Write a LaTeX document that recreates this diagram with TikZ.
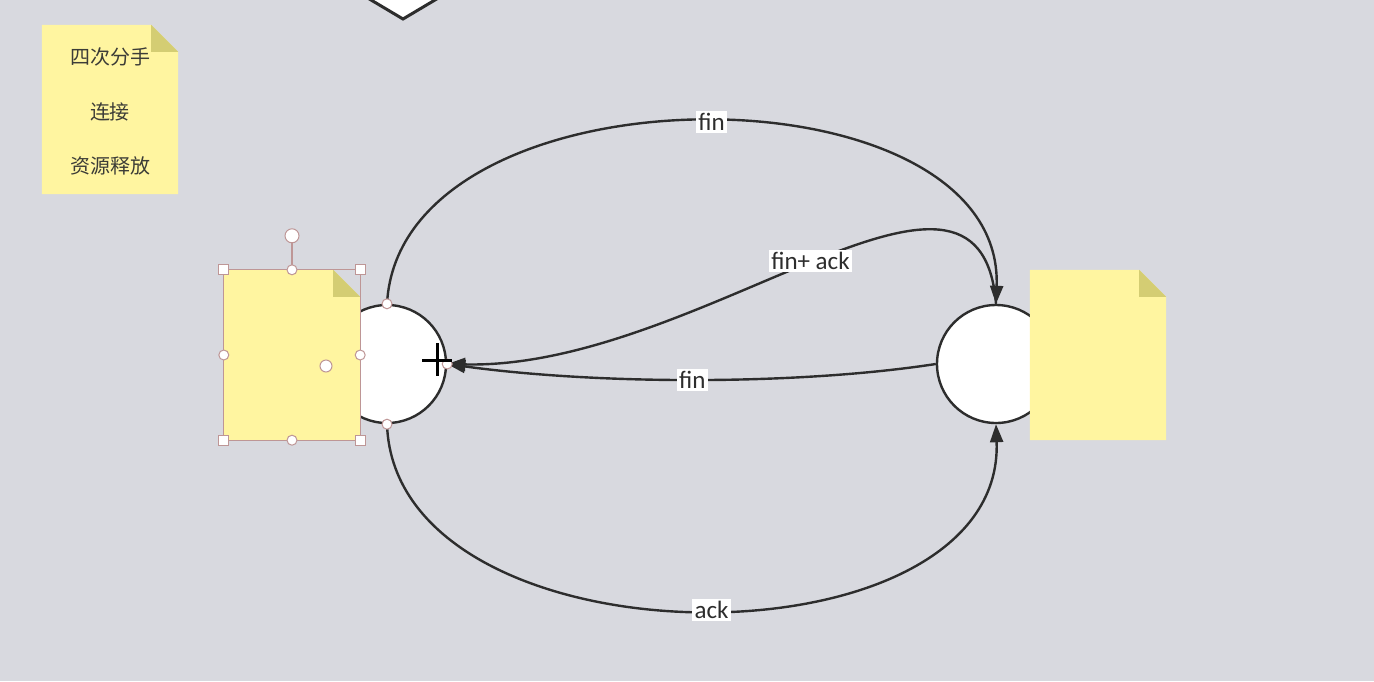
\documentclass[tikz,border=0pt]{standalone}
\usepackage{fontspec}
\setmainfont{Carlito}
\newfontfamily\cjk{Noto Sans CJK SC}
\usetikzlibrary{arrows.meta,calc}
\definecolor{bg}{RGB}{216,217,223}
\definecolor{notey}{RGB}{255,245,160}
\definecolor{foldy}{RGB}{212,205,115}
\definecolor{ln}{RGB}{45,45,45}
\definecolor{sel}{RGB}{190,150,150}
\newcommand\drawnote[1]{%
  \fill[notey] (#1.north west) -- ($(#1.north east)+(-27,0)$) -- ($(#1.north east)+(0,27)$) -- (#1.south east) -- (#1.south west) -- cycle;
  \fill[foldy] ($(#1.north east)+(-27,0)$) -- ($(#1.north east)+(-27,27)$) -- ($(#1.north east)+(0,27)$) -- cycle;}
\begin{document}
\begin{tikzpicture}[x=1pt,y=-1pt,
 conn/.style={draw=ln,line width=2.4pt},
 tip/.style={-{Triangle[length=18pt,width=13pt]}},
 lbl/.style={fill=white,inner xsep=2.5pt,inner ysep=2.5pt,font=\fontsize{25}{27}\selectfont,text=ln},
 circ/.style={circle,draw=ln,line width=2.4pt,fill=white,minimum size=118pt,inner sep=0pt},
 notebox/.style={minimum width=136pt,minimum height=170pt,inner sep=0pt},
 hsq/.style={draw=sel,fill=white,line width=1pt,minimum size=10pt,inner sep=0pt},
 hcirc/.style={circle,draw=sel,fill=white,line width=1pt,minimum size=10pt,inner sep=0pt},
 cpt/.style={circle,draw=sel,fill=white,line width=1pt,minimum size=10pt,inner sep=0pt}]
\useasboundingbox (0,0) rectangle (1374,681);
\fill[bg] (0,0) rectangle (1374,681);
% partial diamond at top
\draw[draw=ln,line width=3pt,fill=white] (366,-3) -- (403,19) -- (440,-3);
% circles
\node[circ] (lc) at (387,364) {};
\node[circ] (rc) at (996,364) {};
% notes
\node[notebox,minimum height=169pt] (n1) at (110,109.5) {};
\node[notebox] (n2) at (292,355) {};
\node[notebox] (n3) at (1098,355) {};
\drawnote{n1}
\drawnote{n2}
\drawnote{n3}
\node[align=center,font=\cjk\fontsize{20}{54.5}\selectfont,text={rgb,255:red,60;green,60;blue,55}] (t1) at ($(n1.center)+(0,2)$) {四次分手\\连接\\资源释放};
% connectors
\draw[conn,tip] (lc.north) .. controls +(13,-243) and +(9,-243) .. (rc.north) node[lbl,pos=0.513] (l1) {fin};
\draw[conn,tip] (rc.north) .. controls +(-16,-200) and +(253,6) .. (lc.east) node[lbl,pos=0.5] (l2) {fin+ ack};
\draw[conn,tip] (rc.west) .. controls +(-137,21) and +(153,21) .. (lc.east) node[lbl,pos=0.51] (l3) {fin};
\draw[conn,tip] (lc.south) .. controls +(8,247) and +(9,249) .. (rc.south) node[lbl,pos=0.515] (l4) {ack};
% connection points on left circle
\node[cpt] (p1) at (lc.north) {};
\node[cpt] (p2) at (lc.south) {};
\node[cpt] (p3) at (lc.east) {};
% selection of left note
\draw[sel,line width=0.8pt] (n2.north west) rectangle (n2.south east);
\node[hcirc,minimum size=14pt] (rot) at ($(n2.north)+(0,-34)$) {};
\draw[sel,line width=1.2pt] (rot) -- (n2.north);
\node[hsq] (s1) at (n2.north west) {};
\node[hsq] (s2) at (n2.north east) {};
\node[hsq] (s3) at (n2.south west) {};
\node[hsq] (s4) at (n2.south east) {};
\node[hcirc] (m1) at (n2.north) {};
\node[hcirc] (m2) at (n2.south) {};
\node[hcirc] (m3) at (n2.west) {};
\node[hcirc] (m4) at (n2.east) {};
\node[hcirc,minimum size=12pt] (m5) at ($(n2.center)+(34,11)$) {};
% cursor
\draw[black,line width=3pt] (422,360) -- (452,360);
\draw[black,line width=3pt] (437,343) -- (437,376);
\end{tikzpicture}
\end{document}
